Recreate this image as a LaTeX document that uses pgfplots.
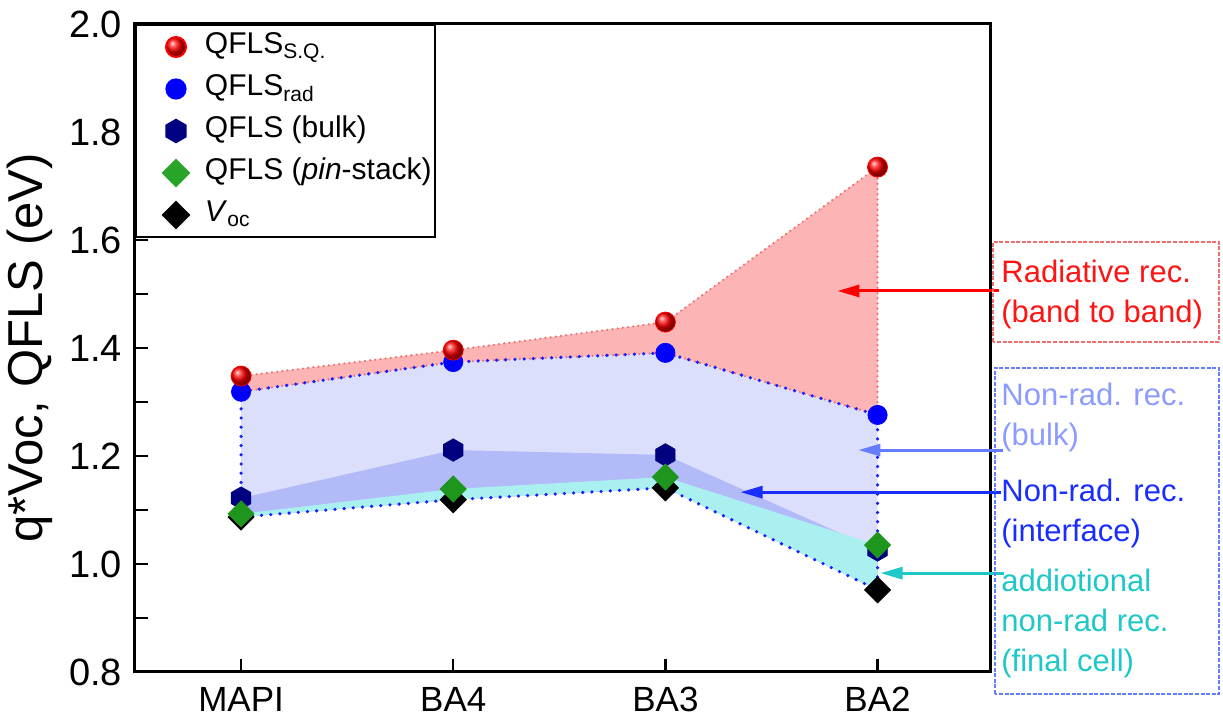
\documentclass[border=0pt]{standalone}
\usepackage{fontspec}
\setmainfont{Liberation Sans}
\usepackage{pgfplots}
\pgfplotsset{compat=1.18}
\usepackage{pgfplotstable}
\usepgfplotslibrary{fillbetween}
\usetikzlibrary{arrows.meta}

\definecolor{cRedFill}{RGB}{252,180,180}
\definecolor{cLav}{RGB}{220,223,252}
\definecolor{cMed}{RGB}{178,186,247}
\definecolor{cCyan}{RGB}{170,240,240}
\definecolor{cRedLine}{RGB}{240,110,110}
\definecolor{cBlueLine}{RGB}{20,30,255}
\definecolor{cNavy}{RGB}{0,0,128}
\definecolor{cGreen}{RGB}{30,150,30}
\definecolor{cGreenL}{RGB}{40,165,40}
\definecolor{cRedTxt}{RGB}{255,20,20}
\definecolor{cLBTxt}{RGB}{140,155,255}
\definecolor{cBTxt}{RGB}{25,45,255}
\definecolor{cCyTxt}{RGB}{30,200,200}
\definecolor{cLBArr}{RGB}{100,125,255}

\pgfdeclareplotmark{hexagon*}{%
  \pgfpathmoveto{\pgfpointpolar{90}{\pgfplotmarksize}}%
  \pgfpathlineto{\pgfpointpolar{150}{\pgfplotmarksize}}%
  \pgfpathlineto{\pgfpointpolar{210}{\pgfplotmarksize}}%
  \pgfpathlineto{\pgfpointpolar{270}{\pgfplotmarksize}}%
  \pgfpathlineto{\pgfpointpolar{330}{\pgfplotmarksize}}%
  \pgfpathlineto{\pgfpointpolar{30}{\pgfplotmarksize}}%
  \pgfpathclose
  \pgfusepathqfillstroke}

\pgfplotsset{legimg/.style={legend image code/.code={%
  \path[draw=none, fill=none] (0pt,0pt) -- (33pt,0pt);
  \path[##1] plot[only marks] coordinates {(19.5pt,0pt)};}}}

\pgfplotstableread{
x sq rad bulk pin voc
0 1.348 1.319 1.122 1.093 1.087
1 1.396 1.374 1.211 1.139 1.119
2 1.448 1.391 1.202 1.161 1.141
3 1.735 1.276 1.026 1.035 0.952
}\data

\begin{document}
\begin{tikzpicture}
\begin{axis}[
  at={(0pt,0pt)}, anchor=south west,
  scale only axis, width=427.5pt, height=324pt,
  xmin=-0.5, xmax=3.53, ymin=0.8, ymax=2.0,
  xtick={0,1,2,3}, xticklabels={MAPI,BA4,BA3,BA2},
  ytick={0.8,1,1.2,1.4,1.6,1.8,2}, minor y tick num=1,
  yticklabel style={/pgf/number format/fixed, /pgf/number format/fixed zerofill, /pgf/number format/precision=1, font=\fontsize{19}{21}\selectfont, xshift=-3pt},
  xticklabel style={font=\fontsize{17.5}{20}\selectfont, yshift=-4pt},
  /pgf/number format/assume math mode=true,
  tick align=inside, xtick pos=bottom, ytick pos=left,
  major tick length=6.5pt, minor tick length=6.5pt,
  axis line style={line width=1.5pt},
  tick style={line width=1.2pt, black},
  ylabel={q*Voc, QFLS (eV)},
  ylabel style={font=\fontsize{24.5}{27}\selectfont, at={(axis description cs:-0.1228,0.5)}, anchor=center},
  clip=false,
  legend cell align=left,
  legend style={at={(axis cs:-0.5,2.0)}, anchor=north west, draw=black, line width=1pt,
    font=\fontsize{15}{17}\selectfont, row sep=2pt, column sep=0pt, inner xsep=0.5pt, inner ysep=1.5pt,
    nodes={inner xsep=1pt, inner ysep=2pt, text height=11pt, text depth=4pt}},
]
\addplot[draw=none, forget plot, name path=sq] table[x=x,y=sq]{\data};
\addplot[draw=none, forget plot, name path=rad] table[x=x,y=rad]{\data};
\addplot[draw=none, forget plot, name path=bulk] table[x=x,y=bulk]{\data};
\addplot[draw=none, forget plot, name path=pin] table[x=x,y=pin]{\data};
\addplot[draw=none, forget plot, name path=voc] table[x=x,y=voc]{\data};

\addplot[fill=cRedFill, draw=none, forget plot] fill between[of=sq and rad];
\addplot[fill=cLav, draw=none, forget plot] fill between[of=rad and voc];
\addplot[fill=cMed, draw=none, forget plot] fill between[of=bulk and voc];
\addplot[fill=cCyan, draw=none, forget plot] fill between[of=pin and voc];

\addplot[draw=cRedLine, fill=none, line width=1.2pt, line cap=round, dash pattern=on 0pt off 2.6pt, forget plot] fill between[of=sq and rad];
\addplot[draw=cBlueLine, fill=none, line width=1.8pt, line cap=round, dash pattern=on 0pt off 4.6pt, forget plot] fill between[of=rad and voc];

\addplot[only marks, mark=square*, mark size=4.6pt, mark options={rotate=45, fill=black, draw=black}, forget plot] table[x=x,y=voc]{\data};
\addplot[only marks, mark=hexagon*, mark size=5.6pt, mark options={fill=cNavy, draw=cNavy}, forget plot] table[x=x,y=bulk]{\data};
\addplot[only marks, mark=square*, mark size=4.6pt, mark options={rotate=45, fill=cGreen, draw=cGreen}, forget plot] table[x=x,y=pin]{\data};
\addplot[only marks, mark=*, mark size=4.8pt, mark options={fill=blue, draw=blue}, forget plot] table[x=x,y=rad]{\data};
\addplot[only marks, mark=ball, mark size=5pt, mark options={ball color=red, draw=red}, forget plot] table[x=x,y=sq]{\data};

\addlegendimage{only marks, legimg, mark=ball, mark size=5pt, mark options={ball color=red, draw=red}}
\addlegendentry{QFLS\textsubscript{S.Q.}}
\addlegendimage{only marks, legimg, mark=*, mark size=4.8pt, mark options={fill=blue, draw=blue}}
\addlegendentry{QFLS\textsubscript{rad}}
\addlegendimage{only marks, legimg, mark=hexagon*, mark size=5.6pt, mark options={fill=cNavy, draw=cNavy}}
\addlegendentry{QFLS (bulk)}
\addlegendimage{only marks, legimg, mark=square*, mark size=4.6pt, mark options={rotate=45, fill=cGreenL, draw=cGreenL}}
\addlegendentry{QFLS (\textit{pin}-stack)}
\addlegendimage{only marks, legimg, mark=square*, mark size=4.6pt, mark options={rotate=45, fill=black, draw=black}}
\addlegendentry{\textit{V}\textsubscript{oc}}

\draw[red, line width=1.5pt, -{Triangle[length=11pt,width=6pt]}] (axis cs:3.571,1.5056) -- (axis cs:2.811,1.5056);
\draw[cLBArr, line width=1.5pt, -{Triangle[length=11pt,width=6pt]}] (axis cs:3.590,1.211) -- (axis cs:2.910,1.211);
\draw[cBTxt, line width=1.5pt, -{Triangle[length=11pt,width=6pt]}] (axis cs:3.580,1.133) -- (axis cs:2.354,1.133);
\draw[cCyTxt, line width=1.5pt, -{Triangle[length=11pt,width=6pt]}] (axis cs:3.594,0.983) -- (axis cs:3.014,0.983);
\end{axis}

\draw[cRedLine, line width=0.6pt, dash pattern=on 2pt off 0.8pt] (429pt,165pt) rectangle (542pt,215pt);
\draw[cLBArr, line width=0.6pt, dash pattern=on 2pt off 0.8pt] (430pt,-11pt) rectangle (542pt,152pt);

\node[anchor=west, align=left, inner sep=0pt, text=cRedTxt, font=\fontsize{15.5}{20}\selectfont] at (433pt,188.75pt) {Radiative rec.\\(band to band)};
\node[anchor=west, align=left, inner sep=0pt, text=cLBTxt, font=\fontsize{15.5}{20}\selectfont] at (433pt,127.5pt) {Non-rad. rec.\\(bulk)};
\node[anchor=west, align=left, inner sep=0pt, text=cBTxt, font=\fontsize{15.5}{20}\selectfont] at (433pt,79.5pt) {Non-rad. rec.\\(interface)};
\node[anchor=west, align=left, inner sep=0pt, text=cCyTxt, font=\fontsize{15.5}{20}\selectfont] at (433pt,24.5pt) {addiotional\\non-rad rec.\\(final cell)};

\pgfresetboundingbox
\path[use as bounding box] (-67.5pt,-25.5pt) rectangle (544pt,336pt);
\end{tikzpicture}
\end{document}
